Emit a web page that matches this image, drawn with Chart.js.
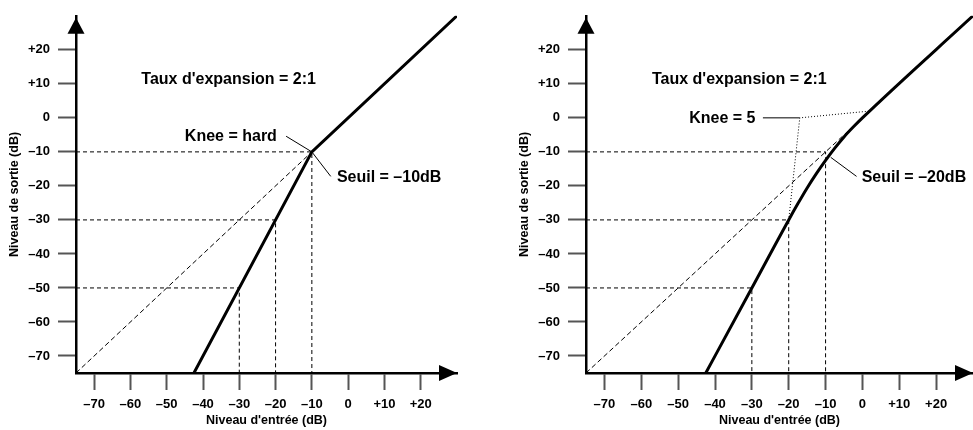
<!DOCTYPE html>
<html lang="fr">
<head>
<meta charset="UTF-8">
<title>Taux d'expansion 2:1</title>
<script src="https://cdn.jsdelivr.net/npm/chart.js"></script>
<style>
  body { margin: 0; background: #fff; }
  .box { position: absolute; top: 0; height: 430px; }
</style>
</head>
<body>
<div class="box" style="left:0;width:510px"><canvas id="chart_hard" width="510" height="430"></canvas></div>
<div class="box" style="left:510px;width:463px"><canvas id="chart_soft" width="463" height="430"></canvas></div>

<script>
// graduations (dB)
var ticksX = [-70, -60, -50, -40, -30, -20, -10, 0, 10, 20];
var ticksY = [-70, -60, -50, -40, -30, -20, -10, 0, 10, 20];

// courbe "hard knee"
var hardIn  = [-42.5, -10, 30];
var hardOut = [-75, -10, 30];

// courbe "soft knee"
var softIn  = [-42.5, -30, -20, -17.5, -15, -12.5, -10, -7.5, -5, -2.5, 0, 30];
var softOut = [-75, -50, -30, -25.2, -20.6, -16.4, -12.5, -8.9, -5.6, -2.7, 0, 30];

// droite unité (pointillés)
var unityHardEnd = -10;
var unitySoftEnd = -3;

// repères entrée -> sortie
var guideIn  = [-10, -20, -30];
var guideOut = [-10, -30, -50];

// knee = 5 : repère et lignes pointillées
var kneeMark = [-17, 0];
var kneeLow  = [-20, -30];
var kneeHigh = [2, 2];

var notesHard = [
    ["Taux d'expansion = 2:1", -57, 11.3],
    ["Knee = hard", -45, -5.4],
    ["Seuil = \u201310dB", -3.1, -17.5]
];
var notesSoft = [
    ["Taux d'expansion = 2:1", -57.1, 11.3],
    ["Knee = 5", -47, -0.2],
    ["Seuil = \u201320dB", -0.2, -17.5]
];
var pointersHard = [
    [[-17.1, -5.4], [-10, -10]],
    [[-10, -10], [-4.8, -17.2]]
];
var pointersSoft = [
    [[-27, 0], [-17, 0]],
    [[-8.6, -11.6], [-1.6, -17.2]]
];

Chart.defaults.font.family = "'Liberation Sans', Arial, sans-serif";
Chart.defaults.color = '#000';

function pts(xs, ys) {
    return xs.map(function (x, i) { return { x: x, y: ys[i] }; });
}
function tickText(v) {
    if (v > 0) return '+' + v;
    if (v < 0) return '\u2013' + Math.abs(v);
    return '0';
}
function line(data, width, dash) {
    return {
        data: data,
        borderColor: '#000',
        borderWidth: width,
        borderDash: dash || [],
        pointRadius: 0,
        fill: false,
        tension: 0
    };
}
function guides() {
    return guideIn.map(function (x, i) {
        return line([{ x: -75, y: guideOut[i] }, { x: x, y: guideOut[i] }, { x: x, y: -75 }], 1, [4, 3]);
    });
}

var axesPlugin = {
    id: 'axes',
    afterDraw: function (chart) {
        var ctx = chart.ctx, a = chart.chartArea;
        var sx = chart.scales.x, sy = chart.scales.y;
        ctx.save();
        ctx.fillStyle = '#000';
        // flèche verticale
        ctx.beginPath();
        ctx.moveTo(a.left, a.top + 2);
        ctx.lineTo(a.left - 8.5, a.top + 18);
        ctx.lineTo(a.left + 8.5, a.top + 18);
        ctx.closePath();
        ctx.fill();
        // flèche horizontale
        ctx.beginPath();
        ctx.moveTo(a.right, a.bottom);
        ctx.lineTo(a.right - 18, a.bottom - 8);
        ctx.lineTo(a.right - 18, a.bottom + 8);
        ctx.closePath();
        ctx.fill();
        // textes
        ctx.font = "bold 16px 'Liberation Sans', Arial, sans-serif";
        ctx.textBaseline = 'middle';
        ctx.textAlign = 'left';
        chart.options.plugins.axes.notes.forEach(function (n) {
            ctx.fillText(n[0], sx.getPixelForValue(n[1]), sy.getPixelForValue(n[2]));
        });
        ctx.restore();
    }
};

function makeChart(id, datasets, notes, padRight) {
    var font = { size: 12.5, weight: 'bold' };
    var tickFont = { size: 13, weight: 'bold' };
    return new Chart(document.getElementById(id), {
        type: 'line',
        data: { datasets: datasets },
        options: {
            responsive: false,
            animation: false,
            layout: { padding: { top: 8, right: padRight, left: 0, bottom: 0 } },
            plugins: {
                legend: { display: false },
                tooltip: { enabled: false },
                axes: { notes: notes }
            },
            scales: {
                x: {
                    type: 'linear',
                    min: -75, max: 30,
                    afterBuildTicks: function (s) { s.ticks = ticksX.map(function (v) { return { value: v }; }); },
                    afterFit: function (s) { s.height = 57; },
                    ticks: { font: tickFont, padding: 7, callback: tickText, maxRotation: 0, autoSkip: false },
                    grid: { drawOnChartArea: false, tickLength: 17, tickColor: '#555', tickWidth: 2 },
                    border: { color: '#000', width: 2.5 },
                    title: { display: true, text: "Niveau d'entrée (dB)", font: font, padding: { top: 0, bottom: 1.5 } }
                },
                y: {
                    type: 'linear',
                    min: -75, max: 30,
                    afterBuildTicks: function (s) { s.ticks = ticksY.map(function (v) { return { value: v }; }); },
                    afterFit: function (s) { s.width = 76; },
                    ticks: { font: tickFont, padding: 8, callback: tickText, autoSkip: false },
                    grid: { drawOnChartArea: false, tickLength: 18, tickColor: '#555', tickWidth: 2 },
                    border: { color: '#000', width: 2.5 },
                    title: { display: true, text: 'Niveau de sortie (dB)', font: font, padding: { top: 7.5, bottom: 0 } }
                }
            }
        },
        plugins: [axesPlugin]
    });
}

// graphique de gauche : knee = hard
var hardSets = guides().concat([
    line([{ x: -75, y: -75 }, { x: unityHardEnd, y: unityHardEnd }], 1, [5, 3]),
    line(pointersHard[0].map(function (p) { return { x: p[0], y: p[1] }; }), 1),
    line(pointersHard[1].map(function (p) { return { x: p[0], y: p[1] }; }), 1),
    line(pts(hardIn, hardOut), 3)
]);
makeChart('chart_hard', hardSets, notesHard, 53);

// graphique de droite : knee = 5
var softCurve = line(pts(softIn, softOut), 3);
softCurve.cubicInterpolationMode = 'monotone';
var softSets = guides().concat([
    line([{ x: -75, y: -75 }, { x: unitySoftEnd, y: unitySoftEnd }], 1, [5, 3]),
    line([{ x: kneeLow[0], y: kneeLow[1] }, { x: kneeMark[0], y: kneeMark[1] }, { x: kneeHigh[0], y: kneeHigh[1] }], 1, [1, 2]),
    line(pointersSoft[0].map(function (p) { return { x: p[0], y: p[1] }; }), 1),
    line(pointersSoft[1].map(function (p) { return { x: p[0], y: p[1] }; }), 1),
    softCurve
]);
makeChart('chart_soft', softSets, notesSoft, 0);
</script>
</body>
</html>
